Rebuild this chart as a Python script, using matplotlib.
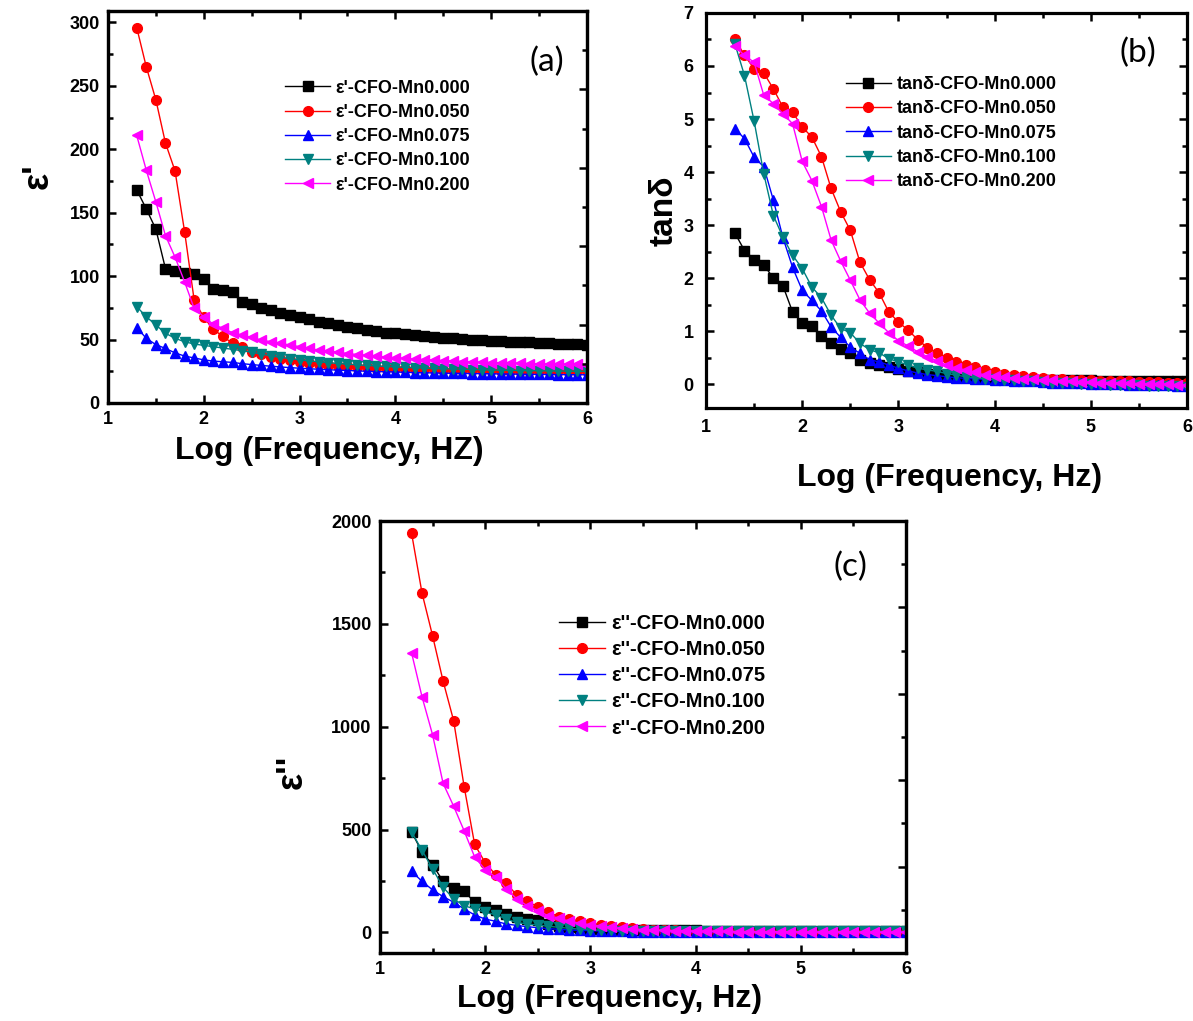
import matplotlib
matplotlib.use('Agg')
import matplotlib.pyplot as plt
from matplotlib.ticker import MultipleLocator

plt.rcParams['font.family'] = ['Liberation Sans', 'DejaVu Sans']
plt.rcParams['font.weight'] = 'bold'

# log10 of frequency (Hz)
log_f = [1.3, 1.4, 1.5, 1.6, 1.7, 1.8, 1.9, 2.0, 2.1, 2.2,
         2.3, 2.4, 2.5, 2.6, 2.7, 2.8, 2.9, 3.0, 3.1, 3.2,
         3.3, 3.4, 3.5, 3.6, 3.7, 3.8, 3.9, 4.0, 4.1, 4.2,
         4.3, 4.4, 4.5, 4.6, 4.7, 4.8, 4.9, 5.0, 5.1, 5.2,
         5.3, 5.4, 5.5, 5.6, 5.7, 5.8, 5.9, 6.0]

samples = ['CFO-Mn0.000', 'CFO-Mn0.050', 'CFO-Mn0.075', 'CFO-Mn0.100', 'CFO-Mn0.200']

# (a) real permittivity eps'
eps_real = [
    [168, 153, 137, 106, 104, 102.5, 101.5, 98, 90, 89,
     87.5, 80, 78, 75, 73, 71, 69, 67.5, 66, 64,
     63, 61.5, 60, 59, 57.5, 56.5, 55.5, 55, 54, 53.5,
     53, 52, 51.5, 51, 50.5, 50, 49.5, 49, 48.7, 48.3,
     48, 47.7, 47.4, 47.1, 46.8, 46.5, 46.2, 46],
    [296, 265, 239, 205, 183, 135, 81, 67.5, 58, 52.5,
     47, 44, 40.5, 38.5, 36.5, 35, 34, 32.5, 31.7, 30.8,
     30, 29.5, 29, 28.5, 28.2, 27.9, 27.6, 27.3, 27.1, 26.9,
     26.7, 26.5, 26.3, 26.2, 26.0, 25.9, 25.8, 25.7, 25.6, 25.5,
     25.4, 25.3, 25.2, 25.1, 25.0, 25.0, 24.9, 24.9],
    [59.5, 51, 46, 43, 39.5, 37, 35.5, 34, 33, 32.5,
     32, 31, 30.3, 29.6, 29, 28.4, 27.9, 27.4, 27, 26.6,
     26.2, 25.9, 25.6, 25.3, 25.0, 24.8, 24.6, 24.4, 24.2, 24.0,
     23.8, 23.7, 23.5, 23.4, 23.3, 23.2, 23.1, 23.0, 22.9, 22.8,
     22.7, 22.6, 22.5, 22.5, 22.4, 22.3, 22.3, 22.2],
    [76, 68, 61.5, 55, 51, 48.3, 46.5, 45.4, 44.4, 43.3,
     42.3, 41.2, 40, 38.6, 37.2, 36, 35, 34, 33.2, 32.5,
     31.8, 31.2, 30.6, 30.1, 29.6, 29.2, 28.8, 28.4, 28.1, 27.8,
     27.5, 27.2, 27.0, 26.8, 26.6, 26.4, 26.2, 26.0, 25.9, 25.8,
     25.6, 25.5, 25.4, 25.3, 25.2, 25.1, 25.0, 25.0],
    [211, 183.5, 158.5, 132, 115, 95.5, 74.5, 68, 62, 58.8,
     55.4, 53.5, 51.7, 49.6, 48.3, 47, 45.7, 44.4, 43, 41.7,
     41, 40, 39, 38.2, 37.5, 36.8, 36.2, 35.6, 35.1, 34.6,
     34.2, 33.8, 33.4, 33.0, 32.7, 32.4, 32.1, 31.9, 31.7, 31.5,
     31.3, 31.1, 30.9, 30.8, 30.6, 30.5, 30.4, 30.3],
]

# (b) loss tangent
tan_delta = [
    [2.85, 2.52, 2.35, 2.25, 2.0, 1.85, 1.36, 1.15, 1.09, 0.9,
     0.77, 0.67, 0.59, 0.46, 0.40, 0.36, 0.32, 0.28, 0.25, 0.22,
     0.20, 0.18, 0.16, 0.14, 0.13, 0.12, 0.11, 0.10, 0.095, 0.09,
     0.085, 0.08, 0.08, 0.075, 0.075, 0.07, 0.07, 0.07, 0.065, 0.065,
     0.06, 0.06, 0.06, 0.055, 0.055, 0.05, 0.05, 0.05],
    [6.51, 6.2, 5.95, 5.87, 5.57, 5.22, 5.13, 4.85, 4.66, 4.29,
     3.69, 3.25, 2.9, 2.3, 1.97, 1.72, 1.36, 1.17, 1.02, 0.84,
     0.69, 0.59, 0.5, 0.42, 0.37, 0.33, 0.26, 0.23, 0.2, 0.17,
     0.15, 0.13, 0.11, 0.10, 0.09, 0.08, 0.07, 0.07, 0.06, 0.06,
     0.05, 0.05, 0.04, 0.04, 0.04, 0.03, 0.03, 0.03],
    [4.82, 4.63, 4.28, 4.1, 3.47, 2.76, 2.2, 1.77, 1.58, 1.38,
     1.08, 0.88, 0.70, 0.58, 0.46, 0.42, 0.36, 0.30, 0.25, 0.21,
     0.18, 0.16, 0.14, 0.12, 0.11, 0.10, 0.09, 0.08, 0.07, 0.06,
     0.05, 0.05, 0.04, 0.03, 0.03, 0.02, 0.02, 0.01, 0.01, 0.0,
     0.0, -0.01, -0.01, -0.02, -0.02, -0.02, -0.03, -0.03],
    [6.42, 5.82, 4.96, 3.97, 3.18, 2.77, 2.43, 2.18, 1.83, 1.63,
     1.3, 1.05, 0.97, 0.77, 0.65, 0.59, 0.48, 0.42, 0.36, 0.30,
     0.27, 0.24, 0.2, 0.17, 0.14, 0.12, 0.10, 0.09, 0.08, 0.07,
     0.06, 0.05, 0.04, 0.03, 0.02, 0.02, 0.01, 0.0, 0.0, -0.01,
     -0.01, -0.02, -0.02, -0.03, -0.03, -0.04, -0.04, -0.05],
    [6.37, 6.2, 6.07, 5.45, 5.29, 5.1, 4.91, 4.2, 3.84, 3.35,
     2.72, 2.32, 1.96, 1.59, 1.34, 1.15, 0.97, 0.82, 0.72, 0.61,
     0.52, 0.44, 0.36, 0.30, 0.27, 0.22, 0.17, 0.15, 0.13, 0.11,
     0.10, 0.09, 0.08, 0.07, 0.06, 0.05, 0.04, 0.04, 0.03, 0.03,
     0.02, 0.02, 0.01, 0.01, 0.0, 0.0, -0.01, -0.02],
]

# (c) imaginary permittivity eps''
eps_imag = [
    [489, 391, 329, 249, 217, 200, 147, 122, 109, 90,
     77, 65, 60, 41, 33, 27, 22, 18, 16, 14,
     13, 12, 11, 10.5, 10, 10, 9.5, 9.5, 9, 9,
     9, 9, 8.5, 8.5, 8.5, 8.5, 8, 8, 8, 8,
     8, 8, 8, 8, 8, 8, 8, 8],
    [1942, 1649, 1442, 1222, 1030, 709, 428, 339, 280, 239,
     182, 151, 125, 98, 77, 66, 54, 46, 37, 30,
     25, 20, 17, 14, 12, 10, 9, 8, 7, 6.5,
     6, 5.5, 5, 5, 4.5, 4.5, 4, 4, 4, 3.5,
     3.5, 3.5, 3, 3, 3, 3, 3, 3],
    [298, 248, 207, 174, 147, 114, 85, 65, 54, 41,
     34, 28, 23, 19, 15, 12, 10, 8, 7, 6,
     5, 4.5, 4, 3.5, 3, 3, 2.5, 2.5, 2, 2,
     2, 2, 1.5, 1.5, 1.5, 1.5, 1, 1, 1, 1,
     1, 1, 1, 1, 1, 1, 1, 1],
    [489, 399, 309, 220, 163, 130, 114, 98, 86, 65,
     49, 41, 36, 30, 25, 20, 16, 13, 11, 9.5,
     8.5, 7.5, 7, 6.5, 6, 5.5, 5.5, 5, 5, 5,
     5, 5, 5, 5, 5, 5, 5, 5, 5, 5,
     5, 5, 5, 5, 5, 5, 5, 5],
    [1360, 1145, 961, 725, 614, 494, 367, 305, 269, 212,
     163, 130, 106, 81, 70, 54, 45, 37, 30, 25,
     20, 17, 14, 12, 10, 9, 8, 7, 6, 5.5,
     5, 4.5, 4, 4, 3.5, 3.5, 3, 3, 3, 2.5,
     2.5, 2.5, 2, 2, 2, 2, 2, 2],
]

colors = ['black', 'red', 'blue', '#008080', '#ff00ff']
markers = ['s', 'o', '^', 'v', '<']


def style(ax, ylim, ymajor, yminor, mirror_right=True):
    ax.set_xlim(1, 6)
    ax.set_ylim(*ylim)
    ax.xaxis.set_major_locator(MultipleLocator(1))
    ax.xaxis.set_minor_locator(MultipleLocator(0.5))
    ax.yaxis.set_major_locator(MultipleLocator(ymajor))
    ax.yaxis.set_minor_locator(MultipleLocator(yminor))
    for sp in ax.spines.values():
        sp.set_linewidth(2.3)
    ax.tick_params(which='both', direction='in', top=True, right=mirror_right,
                   width=1.8, labelsize=13, pad=6)
    ax.tick_params(which='major', length=6)
    ax.tick_params(which='minor', length=3.5)


def right_axis(ax):
    # the right axis of (a) and (c) runs on its own 0-5 scale
    tw = ax.twinx()
    tw.set_ylim(0, 5)
    tw.yaxis.set_major_locator(MultipleLocator(1))
    tw.yaxis.set_minor_locator(MultipleLocator(0.5))
    tw.tick_params(which='both', direction='in', labelright=False, width=1.8)
    tw.tick_params(which='major', length=6)
    tw.tick_params(which='minor', length=3.5)
    for sp in tw.spines.values():
        sp.set_linewidth(2.3)


def draw(ax, series, prefix):
    for vals, c, m, name in zip(series, colors, markers, samples):
        ax.plot(log_f, vals, color=c, marker=m, ms=7, mec=c, lw=1.0,
                label=prefix + name)


fig = plt.figure(figsize=(11.93, 10.21), dpi=100)

# (a)
ax1 = fig.add_axes([0.0905, 0.6053, 0.4015, 0.3839])
draw(ax1, eps_real, "\u03b5'-")
style(ax1, (0, 309), 50, 25, mirror_right=False)
right_axis(ax1)
ax1.set_xlabel('Log (Frequency, HZ)', fontsize=23, fontweight='bold')
ax1.xaxis.set_label_coords(0.463, -0.085)
ax1.set_ylabel("\u03b5'", fontsize=26, fontweight='bold')
ax1.yaxis.set_label_coords(-0.11, 0.58)
ax1.legend(loc='upper left', bbox_to_anchor=(0.37, 0.825), frameon=False,
           fontsize=13, handlelength=2.5, handletextpad=0.3,
           labelspacing=0.4, borderpad=0, borderaxespad=0, numpoints=1)
ax1.text(0.916, 0.87, '(a)', transform=ax1.transAxes, fontsize=24,
         fontweight='normal', family='Lato', ha='center', va='center')

# (b)
ax2 = fig.add_axes([0.5918, 0.6004, 0.4032, 0.3869])
draw(ax2, tan_delta, 'tan\u03b4-')
style(ax2, (-0.45, 7), 1, 0.5)
ax2.tick_params(axis='y', pad=9)
ax2.tick_params(axis='x', pad=8)
ax2.set_xlabel('Log (Frequency, Hz)', fontsize=23, fontweight='bold')
ax2.xaxis.set_label_coords(0.507, -0.14)
ax2.set_ylabel('tan\u03b4', fontsize=24, fontweight='bold')
ax2.yaxis.set_label_coords(-0.054, 0.50)
ax2.legend(loc='upper left', bbox_to_anchor=(0.29, 0.84), frameon=False,
           fontsize=13, handlelength=2.5, handletextpad=0.35,
           labelspacing=0.4, borderpad=0, borderaxespad=0, numpoints=1)
ax2.text(0.898, 0.90, '(b)', transform=ax2.transAxes, fontsize=24,
         fontweight='normal', family='Lato', ha='center', va='center')

# (c)
ax3 = fig.add_axes([0.3185, 0.0666, 0.4409, 0.4231])
draw(ax3, eps_imag, "\u03b5''-")
style(ax3, (-100, 2000), 500, 250, mirror_right=False)
right_axis(ax3)
ax3.set_xlabel('Log (Frequency, Hz)', fontsize=23, fontweight='bold')
ax3.xaxis.set_label_coords(0.437, -0.072)
ax3.set_ylabel("\u03b5''", fontsize=26, fontweight='bold')
ax3.yaxis.set_label_coords(-0.133, 0.42)
ax3.legend(loc='upper left', bbox_to_anchor=(0.34, 0.784), frameon=False,
           fontsize=14.5, handlelength=2.3, handletextpad=0.3,
           labelspacing=0.35, borderpad=0, borderaxespad=0, numpoints=1)
ax3.text(0.895, 0.893, '(c)', transform=ax3.transAxes, fontsize=24,
         fontweight='normal', family='Lato', ha='center', va='center')

fig.savefig('out.png', dpi=100)
